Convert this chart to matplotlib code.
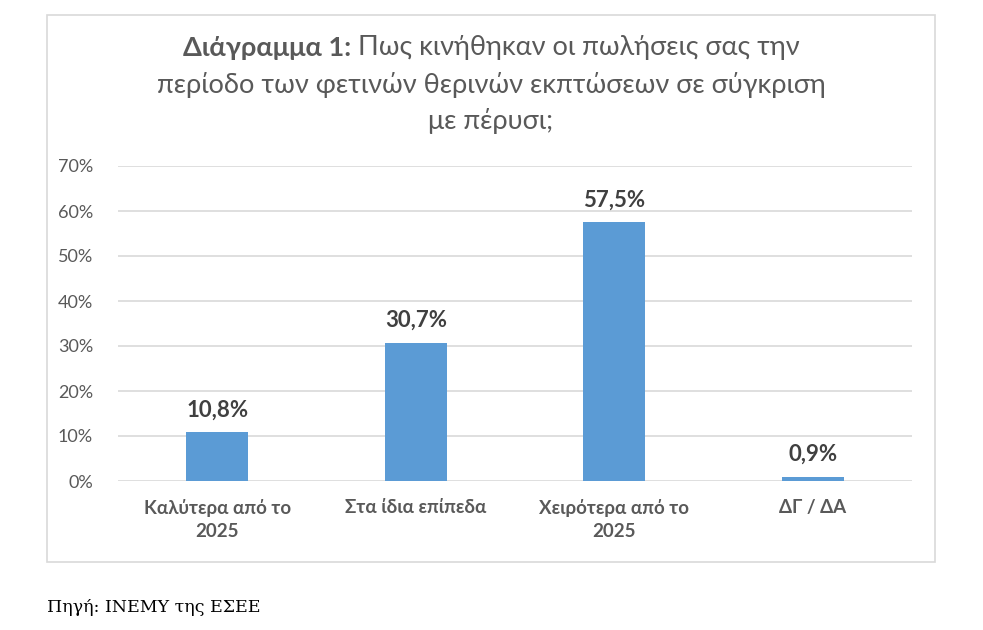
import matplotlib
matplotlib.use("Agg")
import matplotlib.pyplot as plt
from matplotlib.patches import Rectangle
from matplotlib.offsetbox import TextArea, HPacker, AnchoredOffsetbox

categories = ["Καλύτερα από το\n2025", "Στα ίδια επίπεδα", "Χειρότερα από το\n2025", "ΔΓ / ΔΑ"]
values = [10.8, 30.7, 57.5, 0.9]
value_labels = ["10,8%", "30,7%", "57,5%", "0,9%"]
yticks = [0, 10, 20, 30, 40, 50, 60, 70]
ytick_labels = ["0%", "10%", "20%", "30%", "40%", "50%", "60%", "70%"]

plt.rcParams['font.family'] = ['Lato', 'DejaVu Sans']

W, H = 983, 630
fig = plt.figure(figsize=(W / 100, H / 100), dpi=100)
fig.patch.set_facecolor("white")

# chart border
fig.add_artist(Rectangle((47 / W, 1 - 562 / H), (935 - 47) / W, (562 - 15) / H,
                         transform=fig.transFigure, fill=False, edgecolor="#D9D9D9", linewidth=1.2))

ax = fig.add_axes([118 / W, 1 - 481 / H, (912 - 118) / W, (481 - 166) / H])
x = list(range(len(categories)))
ax.bar(x, values, width=0.31, color="#5B9BD5", zorder=3)
ax.set_xlim(-0.5, len(categories) - 0.5)
ax.set_ylim(0, 70)
ax.set_yticks(yticks)
ax.set_yticklabels(ytick_labels, fontsize=13, color="#595959")
ax.set_xticks(x)
ax.set_xticklabels(categories, fontsize=13.5, fontweight="bold", color="#595959", linespacing=1.4)
ax.tick_params(axis="both", length=0)
ax.tick_params(axis="y", pad=18)
ax.tick_params(axis="x", pad=13)
ax.grid(axis="y", color="#D9D9D9", linewidth=1.2, zorder=0)
for s in ax.spines.values():
    s.set_visible(False)

for xi, v, lab in zip(x, values, value_labels):
    ax.annotate(lab, (xi, v), xytext=(0, 8.5), textcoords="offset points",
                ha="center", va="bottom", fontsize=16, fontweight="bold", color="#404040")

# title
TS = 19.5
bold = TextArea("Διάγραμμα 1:", textprops=dict(fontsize=TS, fontweight="bold", color="#595959"))
normal = TextArea(" Πως κινήθηκαν οι πωλήσεις σας την", textprops=dict(fontsize=TS, color="#595959"))
pack = HPacker(children=[bold, normal], pad=0, sep=0, align="baseline")
ab = AnchoredOffsetbox(loc="center", child=pack, frameon=False,
                       bbox_to_anchor=(491 / W, 1 - 48 / H), bbox_transform=fig.transFigure, pad=0, borderpad=0)
fig.add_artist(ab)
fig.text(491 / W, 1 - 85 / H, "περίοδο των φετινών θερινών εκπτώσεων σε σύγκριση",
         ha="center", va="center", fontsize=TS, color="#595959")
fig.text(491 / W, 1 - 121 / H, "με πέρυσι;", ha="center", va="center", fontsize=TS, color="#595959")

fig.text(47 / W, 1 - 607 / H, "Πηγή: ΙΝΕΜΥ της ΕΣΕΕ", ha="left", va="center",
         fontsize=12.5, color="black", family=["DejaVu Serif"])

fig.savefig("out.png", dpi=100, facecolor="white")
